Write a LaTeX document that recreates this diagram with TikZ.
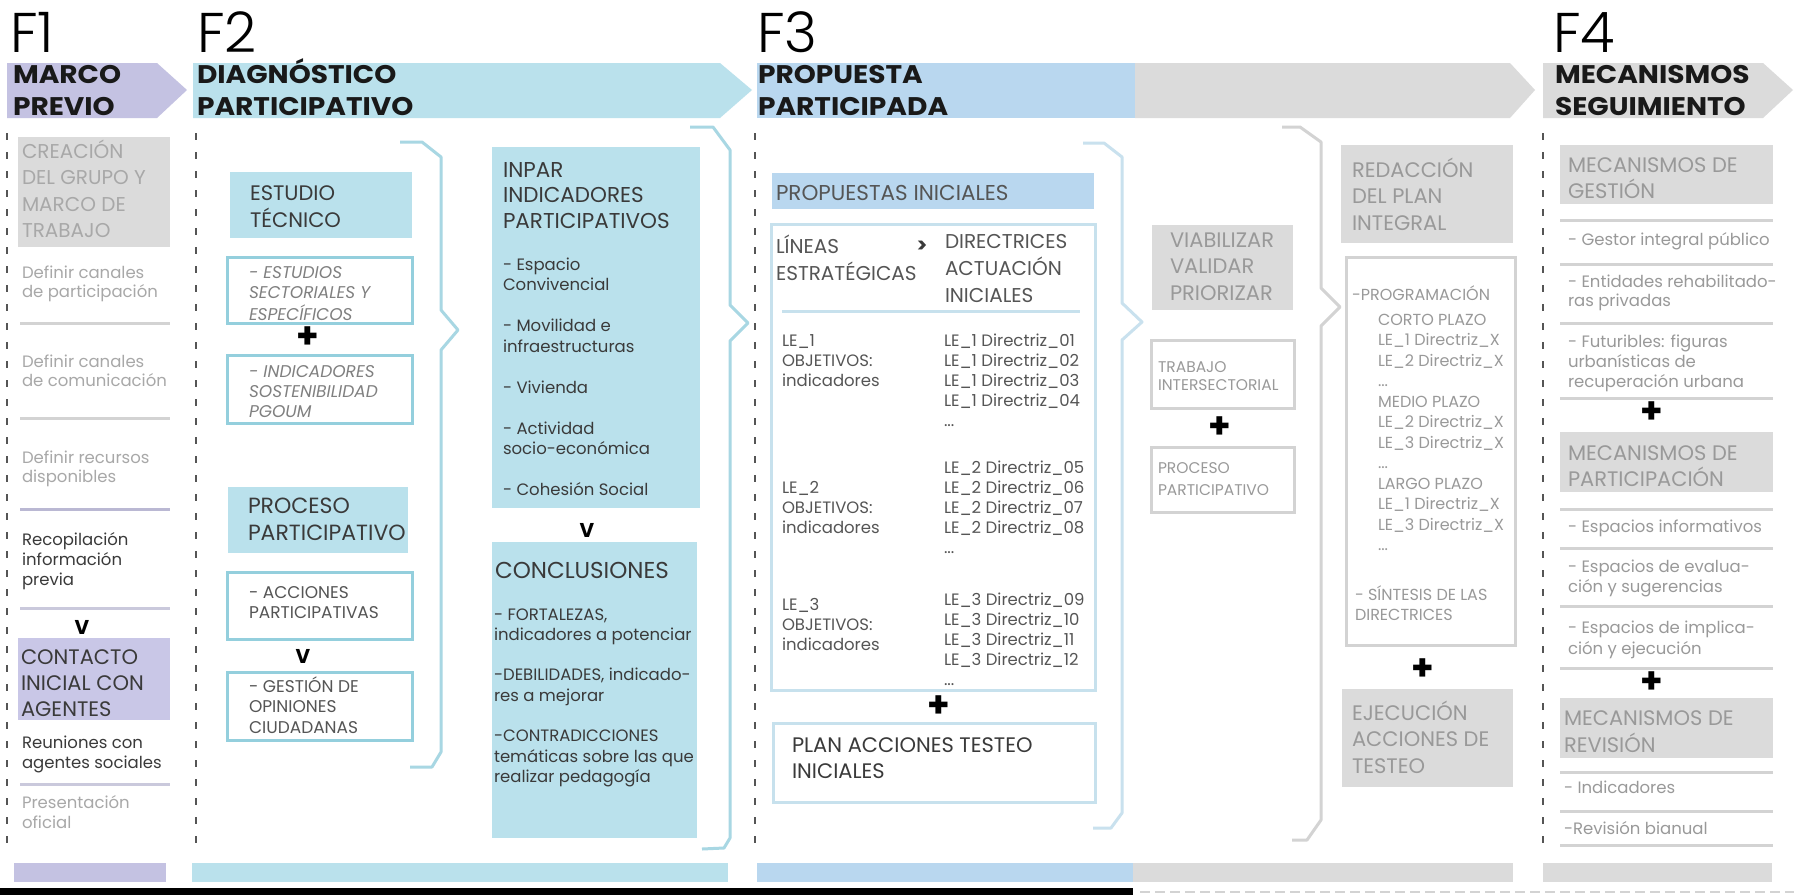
\documentclass[tikz,border=0pt]{standalone}
\usepackage{fontspec}
\setmainfont{Poppins}
\newfontfamily\ttlfont{Poppins}[FakeStretch=1.1]
\IfFontExistsTF{Poppins Light}{\newfontfamily\thinfont{Poppins Light}}{\newfontfamily\thinfont{Poppins}}
\newcommand\fs[2]{\fontsize{#1}{#2}\selectfont}
\newcommand\ml[1]{\begin{tabular}[t]{@{}l@{}}#1\end{tabular}}
\definecolor{purp}{HTML}{C4C2E2}
\definecolor{purpbox}{HTML}{C9C7E7}
\definecolor{lblue}{HTML}{BAE1EC}
\definecolor{tealo}{HTML}{94CFDD}
\definecolor{brkA}{HTML}{A8D7E3}
\definecolor{pblue}{HTML}{B9D7EF}
\definecolor{oblue}{HTML}{C7E1ED}
\definecolor{brkB}{HTML}{C9E1EE}
\definecolor{gboxc}{HTML}{DBDBDB}
\definecolor{glinec}{HTML}{D3D3D3}
\definecolor{gtext}{HTML}{999999}
\definecolor{ltext}{HTML}{A8A8A8}
\definecolor{dtext}{HTML}{3A3A3A}
\definecolor{mtext}{HTML}{555555}
\definecolor{itext}{HTML}{808080}
\definecolor{dashc}{HTML}{555555}
\tikzset{
  tx/.style={anchor=base west, inner sep=0pt, outer sep=0pt},
  flab/.style={tx, font=\thinfont\fs{56}{60}, text=black},
  ttl/.style={tx, font=\ttlfont\bfseries\fs{25.5}{32}, text=black!90},
  big/.style={tx, font=\fs{21}{26.5}},
  sml/.style={tx, font=\fs{16.5}{20}},
  pls/.style={anchor=center, inner sep=0pt, font=\fs{36}{36}\bfseries},
  vee/.style={anchor=center, inner sep=0pt, font=\fs{20}{20}\bfseries},
  fbox/.style={anchor=north west, inner sep=0pt, outer sep=0pt},
  sep/.style={line width=3pt, glinec},
  vdash/.style={dashc, line width=2pt, dash pattern=on 7pt off 12pt},
  brk/.style={line width=3pt, line join=round},
}
\newcommand\bx[6]{\node[fbox,#6,minimum width=#4pt-#2pt,minimum height=#5pt-#3pt] (#1) at (#2,#3) {};}
\begin{document}
\begin{tikzpicture}[x=1pt,y=-1pt]
\useasboundingbox (0,0) rectangle (1794,895);
\fill[white] (0,0) rectangle (1794,895);
% header bands
\fill[purp] (7,63) -- (157,63) -- (187,90) -- (157,118) -- (7,118) -- cycle;
\fill[lblue] (193,63) -- (720,63) -- (752,90) -- (720,118) -- (193,118) -- cycle;
\fill[gboxc] (1135,63) -- (1510,63) -- (1535,90) -- (1510,118) -- (1135,118) -- cycle;
\fill[pblue] (757,63) rectangle (1135,118);
\fill[gboxc] (1543,63) -- (1763,63) -- (1793,90) -- (1763,118) -- (1543,118) -- cycle;
\node[flab] (f1) at (10,52) {F1};
\node[flab] (f2) at (197,52) {F2};
\node[flab] (f3) at (757,52) {F3};
\node[flab] (f4) at (1553,52) {F4};
\node[ttl] (t1) at (13,83) {\ml{MARCO\\PREVIO}};
\node[ttl] (t2) at (197,83) {\ml{DIAGNÓSTICO\\PARTICIPATIVO}};
\node[ttl] (t3) at (758,83) {\ml{PROPUESTA\\PARTICIPADA}};
\node[ttl] (t4) at (1555,83) {\ml{MECANISMOS\\SEGUIMIENTO}};
% dashed column lines
\draw[vdash] (7,133) -- (7,853);
\draw[vdash] (196,133) -- (196,853);
\draw[vdash] (755,133) -- (755,853);
\draw[vdash] (1543,133) -- (1543,853);
% ---------------- F1
\bx{creacion}{18}{137}{170}{247}{fill=gboxc}
\node[big, font=\fs{20}{26.5}, text=ltext] (creaciontx) at (22,158) {\ml{CREACIÓN\\DEL GRUPO Y\\MARCO DE\\TRABAJO}};
\node[sml, font=\fs{16.5}{19.5}, text=ltext] (d1) at (22,278) {\ml{Definir canales\\de participación}};
\node[sml, font=\fs{16.5}{19.5}, text=ltext] (d2) at (22,367) {\ml{Definir canales\\de comunicación}};
\node[sml, font=\fs{16.5}{19.5}, text=ltext] (d3) at (22,463) {\ml{Definir recursos\\disponibles}};
\node[sml, text=dtext] (d4) at (22,545) {\ml{Recopilación\\información\\previa}};
\node[sml, text=dtext] (d5) at (22,748) {\ml{Reuniones con\\agentes sociales}};
\node[sml, text=ltext] (d6) at (22,808) {\ml{Presentación\\oficial}};
\draw[sep] (20,323) -- (170,323);
\draw[sep] (20,418) -- (170,418);
\draw[sep, draw=purp!85!gray] (20,509) -- (170,509);
\draw[sep, draw=purp!60!glinec] (20,608) -- (170,608);
\draw[sep, draw=purp!60!glinec] (20,784) -- (170,784);
\node[vee] (v1) at (82,627) {V};
\bx{contacto}{18}{638}{170}{720}{fill=purpbox}
\node[big, font=\fs{21}{26}, text=dtext] (contactotx) at (21,664) {\ml{CONTACTO\\INICIAL CON\\AGENTES}};
% ---------------- F2
\bx{estudio}{230}{172}{412}{238}{fill=lblue}
\node[big, font=\fs{21}{26}, text=dtext] (estudiotx) at (250,200) {\ml{ESTUDIO\\TÉCNICO}};
\bx{estsec}{227}{257}{412}{323}{draw=tealo, line width=3pt}
\node[sml, font=\fs{17}{20.5}\itshape, text=itext] (estsectx) at (249,278) {\ml{- ESTUDIOS\\SECTORIALES Y\\ESPECÍFICOS}};
\node[pls] (p1) at (308,338) {+};
\bx{indsos}{227}{355}{412}{423}{draw=tealo, line width=3pt}
\node[sml, font=\fs{17}{20}\itshape, text=itext] (indsostx) at (249,377) {\ml{- INDICADORES\\SOSTENIBILIDAD\\PGOUM}};
\bx{procA}{228}{487}{408}{553}{fill=lblue}
\node[big, font=\fs{22}{27}, text=dtext] (procAtx) at (248,513) {\ml{PROCESO\\PARTICIPATIVO}};
\bx{acc}{227}{572}{412}{639}{draw=tealo, line width=3pt}
\node[sml, font=\fs{17}{20}, text=mtext] (acctx) at (249,598) {\ml{- ACCIONES\\PARTICIPATIVAS}};
\node[vee] (v2) at (303,656) {V};
\bx{gest}{227}{672}{412}{740}{draw=tealo, line width=3pt}
\node[sml, font=\fs{17}{20.5}, text=mtext] (gesttx) at (249,692) {\ml{- GESTIÓN DE\\OPINIONES\\CIUDADANAS}};
\draw[brk, brkA] (400,142) -- (422,142) -- (441,157) -- (441,310) -- (458,330) -- (441,350) -- (441,752) -- (432,767) -- (410,767);
\bx{inpar}{492}{147}{700}{508}{fill=lblue}
\node[big, font=\fs{21.5}{25.5}, text=dtext] (inpartx) at (503,177) {\ml{INPAR\\INDICADORES\\PARTICIPATIVOS}};
\node[sml, font=\fs{16.5}{20.5}, text=dtext] (inparit) at (503,270) {\ml{- Espacio\\Convivencial\\[20.5pt]- Movilidad e\\infraestructuras\\[20.5pt]- Vivienda\\[20.5pt]- Actividad\\socio-económica\\[20.5pt]- Cohesión Social}};
\node[vee] (v3) at (587,530) {V};
\bx{concl}{492}{542}{697}{838}{fill=lblue}
\node[big, font=\fs{23}{27}, text=dtext] (concltx) at (495,578) {CONCLUSIONES};
\node[sml, font=\fs{16.5}{20.3}, text=dtext] (conclit) at (494,620) {\ml{- FORTALEZAS,\\indicadores a potenciar\\[20.3pt]-DEBILIDADES, indicado-\\res a mejorar\\[20.3pt]-CONTRADICCIONES\\temáticas sobre las que\\realizar pedagogía}};
\draw[brk, brkA] (690,127) -- (713,127) -- (730,150) -- (730,305) -- (748,323) -- (730,341) -- (730,838) -- (724,848) -- (702,849);
% ---------------- F3
\bx{propin}{772}{173}{1094}{209}{fill=pblue}
\node[big, font=\fs{21.5}{26}, text=mtext] (propintx) at (776,200) {PROPUESTAS INICIALES};
\bx{lineas}{771}{224}{1095}{690}{draw=oblue, line width=3pt}
\node[big, font=\fs{20}{27}, text=mtext] (lintx) at (776,253) {\ml{LÍNEAS\\ESTRATÉGICAS}};
\node[vee, text=dtext] (gt) at (922,247) {>};
\node[big, font=\fs{20}{27}, text=mtext] (dirtx) at (945,248) {\ml{DIRECTRICES\\ACTUACIÓN\\INICIALES}};
\draw[line width=3pt, oblue] (782,311) -- (1080,311);
\node[sml, text=mtext] (le1) at (782,346) {\ml{LE\_1\\OBJETIVOS:\\indicadores}};
\node[sml, text=mtext] (le2) at (782,493) {\ml{LE\_2\\OBJETIVOS:\\indicadores}};
\node[sml, text=mtext] (le3) at (782,610) {\ml{LE\_3\\OBJETIVOS:\\indicadores}};
\node[sml, text=mtext] (dr1) at (944,346) {\ml{LE\_1 Directriz\_01\\LE\_1 Directriz\_02\\LE\_1 Directriz\_03\\LE\_1 Directriz\_04\\...}};
\node[sml, text=mtext] (dr2) at (944,473) {\ml{LE\_2 Directriz\_05\\LE\_2 Directriz\_06\\LE\_2 Directriz\_07\\LE\_2 Directriz\_08\\...}};
\node[sml, text=mtext] (dr3) at (944,605) {\ml{LE\_3 Directriz\_09\\LE\_3 Directriz\_10\\LE\_3 Directriz\_11\\LE\_3 Directriz\_12\\...}};
\node[pls] (p2) at (939,707) {+};
\bx{plan}{773}{723}{1095}{802}{draw=oblue, line width=3pt}
\node[big, font=\fs{21}{26}, text=dtext] (plantx) at (792,752) {\ml{PLAN ACCIONES TESTEO\\INICIALES}};
\draw[brk, brkB] (1083,143) -- (1104,143) -- (1122,157) -- (1122,303) -- (1142,322) -- (1122,340) -- (1122,813) -- (1111,828) -- (1093,828);
\bx{viab}{1152}{225}{1293}{310}{fill=gboxc}
\node[big, font=\fs{21}{26.5}, text=gtext] (viabtx) at (1170,247) {\ml{VIABILIZAR\\VALIDAR\\PRIORIZAR}};
\bx{trab}{1151}{340}{1294}{408}{draw=glinec, line width=3pt}
\node[sml, font=\fs{15.5}{18.5}, text=gtext] (trabtx) at (1158,372) {\ml{TRABAJO\\INTERSECTORIAL}};
\node[pls] (p3) at (1220,428) {+};
\bx{procB}{1151}{447}{1294}{512}{draw=glinec, line width=3pt}
\node[sml, font=\fs{15.5}{22}, text=gtext] (procBtx) at (1158,473) {\ml{PROCESO\\PARTICIPATIVO}};
\draw[brk, glinec] (1282,127) -- (1300,127) -- (1321,142) -- (1321,288) -- (1340,307) -- (1321,326) -- (1321,820) -- (1307,840) -- (1292,840);
\bx{redac}{1341}{145}{1513}{243}{fill=gboxc}
\node[big, font=\fs{21}{26.5}, text=gtext] (redactx) at (1352,177) {\ml{REDACCIÓN\\DEL PLAN\\INTEGRAL}};
\bx{prog}{1346}{257}{1515}{645}{draw=glinec, line width=3pt}
\node[sml, font=\fs{16}{20.5}, text=gtext] (progtx) at (1352,300) {-PROGRAMACIÓN};
\node[sml, font=\fs{16}{20.5}, text=gtext] (plazos) at (1378,325) {\ml{CORTO PLAZO\\LE\_1 Directriz\_X\\LE\_2 Directriz\_X\\...\\MEDIO PLAZO\\LE\_2 Directriz\_X\\LE\_3 Directriz\_X\\...\\LARGO PLAZO\\LE\_1 Directriz\_X\\LE\_3 Directriz\_X\\...}};
\node[sml, font=\fs{16}{20.5}, text=gtext] (sintx) at (1355,600) {\ml{- SÍNTESIS DE LAS\\DIRECTRICES}};
\node[pls] (p4) at (1423,670) {+};
\bx{ejec}{1342}{689}{1513}{787}{fill=gboxc}
\node[big, font=\fs{21}{26.5}, text=gtext] (ejectx) at (1352,720) {\ml{EJECUCIÓN\\ACCIONES DE\\TESTEO}};
% ---------------- F4
\bx{mgest}{1560}{145}{1773}{204}{fill=gboxc}
\node[big, font=\fs{21}{25}, text=gtext] (mgesttx) at (1568,172) {\ml{MECANISMOS DE\\GESTIÓN}};
\draw[sep] (1560,220) -- (1773,220);
\draw[sep] (1560,264) -- (1773,264);
\draw[sep] (1560,323) -- (1773,323);
\draw[sep] (1560,398) -- (1773,398);
\node[sml, text=gtext] (g1) at (1568,245) {- Gestor integral público};
\node[sml, font=\fs{16.5}{19}, text=gtext] (g2) at (1568,287) {\ml{- Entidades rehabilitado-\\ras privadas}};
\node[sml, text=gtext] (g3) at (1568,347) {\ml{- Futuribles: figuras\\urbanísticas de\\recuperación urbana}};
\node[pls] (p5) at (1652,413) {+};
\bx{mpart}{1560}{432}{1773}{492}{fill=gboxc}
\node[big, font=\fs{21}{25}, text=gtext] (mparttx) at (1568,460) {\ml{MECANISMOS DE\\PARTICIPACIÓN}};
\draw[sep] (1560,509) -- (1773,509);
\draw[sep] (1560,548) -- (1773,548);
\draw[sep] (1560,606) -- (1773,606);
\draw[sep] (1560,668) -- (1773,668);
\node[sml, text=gtext] (e1) at (1568,532) {- Espacios informativos};
\node[sml, text=gtext] (e2) at (1568,572) {\ml{- Espacios de evalua-\\ción y sugerencias}};
\node[sml, font=\fs{16.5}{21}, text=gtext] (e3) at (1568,633) {\ml{- Espacios de implica-\\ción y ejecución}};
\node[pls] (p6) at (1652,683) {+};
\bx{mrev}{1560}{698}{1773}{758}{fill=gboxc}
\node[big, font=\fs{21}{27}, text=gtext] (mrevtx) at (1564,725) {\ml{MECANISMOS DE\\REVISIÓN}};
\draw[sep] (1560,772) -- (1773,772);
\draw[sep] (1560,811) -- (1773,811);
\draw[sep] (1560,845) -- (1773,845);
\node[sml, text=gtext] (r1) at (1564,793) {- Indicadores};
\node[sml, text=gtext] (r2) at (1564,834) {-Revisión bianual};
% ---------------- bottom bars
\fill[purp] (14,863) rectangle (166,882);
\fill[lblue] (192,863) rectangle (728,882);
\fill[pblue] (757,863) rectangle (1133,882);
\fill[gboxc] (1133,863) rectangle (1513,882);
\fill[gboxc] (1543,863) rectangle (1772,882);
\fill[black] (0,888) rectangle (1133,895);
\draw[glinec, line width=2.5pt, dash pattern=on 10pt off 5pt] (1140,892) -- (1794,892);
\end{tikzpicture}
\end{document}
